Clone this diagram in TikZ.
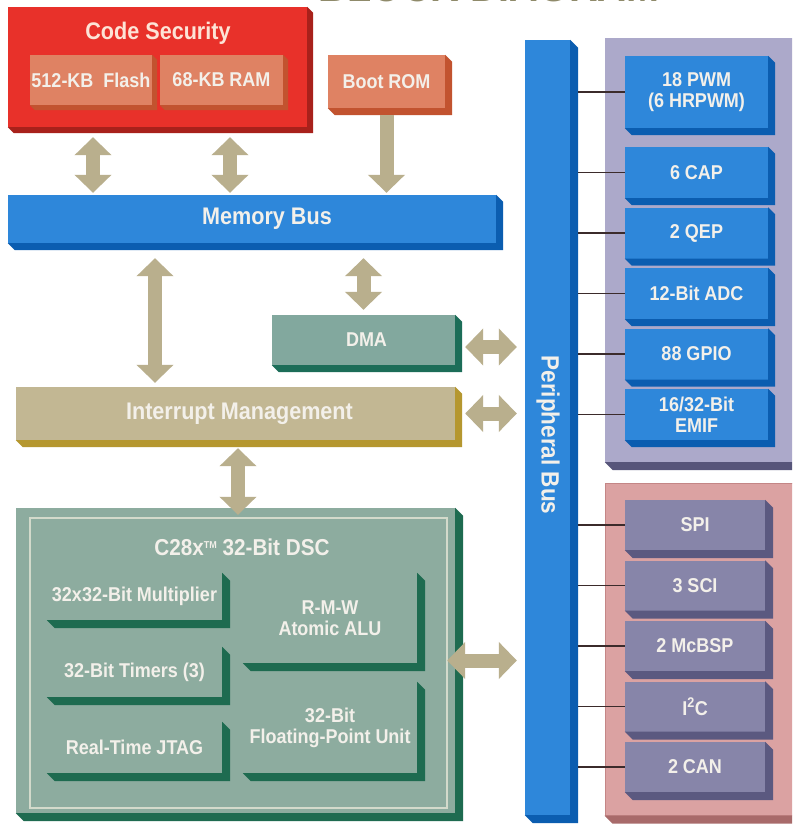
\documentclass[tikz,border=0pt]{standalone}
\usepackage{fontspec}
\setmainfont{Liberation Sans}[FakeStretch=0.9]
\usetikzlibrary{arrows.meta, positioning}

\definecolor{redF}{HTML}{E8312A}
\definecolor{redD}{HTML}{A8211B}
\definecolor{salF}{HTML}{DF8263}
\definecolor{salD}{HTML}{C2532F}
\definecolor{bluF}{HTML}{2E87DA}
\definecolor{bluD}{HTML}{0B5DB0}
\definecolor{tealF}{HTML}{82A89E}
\definecolor{tealD}{HTML}{1C6D58}
\definecolor{khaF}{HTML}{C2B793}
\definecolor{khaD}{HTML}{B5972F}
\definecolor{dscF}{HTML}{8DAC9F}
\definecolor{dscD}{HTML}{1E6B50}
\definecolor{frm}{HTML}{D3DACB}
\definecolor{lavF}{HTML}{ACA9CA}
\definecolor{lavD}{HTML}{57557A}
\definecolor{pinkF}{HTML}{DBA2A2}
\definecolor{pinkE}{HTML}{C48686}
\definecolor{pinkD}{HTML}{A86A6A}
\definecolor{purF}{HTML}{8785A9}
\definecolor{purD}{HTML}{5B5980}
\definecolor{arr}{HTML}{B9AF8D}
\definecolor{lbl}{HTML}{F3F0EA}
\definecolor{secT}{HTML}{FDE3D6}
\definecolor{tapc}{HTML}{3B2B2B}
\definecolor{ttl}{HTML}{8F8A6A}

\begin{document}
\begin{tikzpicture}[x=1pt, y=1pt, node distance=60.5pt, on grid,
  blk/.style={fill=#1, inner sep=0pt, text=lbl, align=center,
    font=\bfseries\fontsize{20}{21}\selectfont},
  big/.style={font=\bfseries\fontsize{24}{26}\selectfont},
  hdr/.style={text=lbl, inner sep=0pt, big},
  periph/.style={blk=#1, minimum width=143pt, minimum height=51pt},
  serial/.style={blk=purF, minimum width=140pt, minimum height=50pt},
  dbl/.style={draw=arr, line width=14pt,
    {Triangle[width=36pt,length=18pt]}-{Triangle[width=36pt,length=18pt]}},
  sgl/.style={draw=arr, line width=14pt, -{Triangle[width=36pt,length=18pt]}},
  tap/.style={draw=tapc, line width=1.8pt}]

\clip (0,0) rectangle (792,-824);
\fill[white] (0,0) rectangle (792,-824);

% title, cut off by the top edge
\node[text=ttl, font=\bfseries\fontsize{44}{44}\selectfont, anchor=base] (title) at (489,-2) {BLOCK DIAGRAM};

% peripheral groups
\node[blk=lavF, minimum width=195pt, minimum height=424pt] (grpA) at (702.5,-250) {};
\node[blk=pinkF, draw=pinkE, line width=1pt, minimum width=195pt, minimum height=332pt] (grpB) at (702.5,-649) {};

% memory side
\node[blk=redF, minimum width=299pt, minimum height=120pt] (sec) at (157.5,-67) {};
\node[hdr, text=secT] (sectxt) at (158,-33) {Code Security};
\node[blk=salF, minimum width=122pt, minimum height=50pt] (flash) at (91,-80) {512-KB\ \ Flash};
\node[blk=salF, minimum width=123pt, minimum height=50pt] (ram) at (221.5,-80) {68-KB RAM};
\node[blk=salF, minimum width=117pt, minimum height=53pt] (boot) at (386.5,-81.5) {Boot ROM};
\node[blk=bluF, big, minimum width=488pt, minimum height=48pt] (membus) at (252,-219) {\hspace*{30pt}Memory Bus};
\node[blk=tealF, minimum width=183pt, minimum height=50pt] (dma) at (363.5,-340) {\hspace*{6pt}DMA};
\node[blk=khaF, big, minimum width=439pt, minimum height=53pt] (irq) at (235.5,-413.5) {\hspace*{8pt}Interrupt Management};

% CPU
\node[blk=dscF, minimum width=439pt, minimum height=305pt] (dsc) at (235.5,-660.5) {};
\draw[frm, line width=2.5pt] ([shift={(14,-10)}]dsc.north west) rectangle ([shift={(-8,5)}]dsc.south east);
\node[hdr, font=\bfseries\fontsize{23}{25}\selectfont] (dsctxt) at (242,-547) {C28x\raisebox{7pt}{\fontsize{10}{10}\selectfont TM} 32-Bit DSC};
\node[blk=dscF, minimum width=175pt, minimum height=47pt] (mul) at (134.5,-596.5) {32x32-Bit Multiplier};
\node[blk=dscF, minimum width=175pt, minimum height=50pt] (tmr) at (134.5,-672) {32-Bit Timers (3)};
\node[blk=dscF, minimum width=175pt, minimum height=51pt] (jtag) at (134.5,-747.5) {Real-Time JTAG};
\node[blk=dscF, minimum width=174pt, minimum height=90pt] (alu) at (330,-618) {R-M-W\\Atomic ALU};
\node[blk=dscF, minimum width=174pt, minimum height=91pt] (fpu) at (330,-727.5) {32-Bit\\Floating-Point Unit};

% peripheral bus
\node[blk=bluF, minimum width=45pt, minimum height=775pt] (pbus) at (547.5,-427.5) {};
\node[hdr, rotate=-90, font=\bfseries\fontsize{25}{26}\selectfont] (pbustxt) at (548,-435) {Peripheral Bus};

\node[periph=bluF, minimum height=72pt] (pwm) at (696.5,-92) {18 PWM\\(6 HRPWM)};
\node[periph=bluF] (cap) at (696.5,-172.5) {6 CAP};
\node[periph=bluF, below=of cap] (qep) {2 QEP};
\node[periph=bluF, below=of qep] (adc) {12-Bit ADC};
\node[periph=bluF, below=of adc] (gpio) {88 GPIO};
\node[periph=bluF, below=of gpio] (emif) {16/32-Bit\\EMIF};

\node[serial] (spi) at (695,-525) {SPI};
\node[serial, below=of spi] (sci) {3 SCI};
\node[serial, below=of sci] (mcbsp) {2 McBSP};
\node[serial, below=of mcbsp] (iic) {I\textsuperscript{2}C};
\node[serial, below=of iic] (can) {2 CAN};

% 3-D edges
\foreach \n/\c/\sh in {grpA/lavD/8, grpB/pinkD/8, sec/redD/6, flash/salD/5, ram/salD/5,
    boot/salD/7, membus/bluD/7, dma/tealD/7, irq/khaD/7, dsc/dscD/8, mul/dscD/8,
    tmr/dscD/8, jtag/dscD/8, alu/dscD/8, fpu/dscD/8, pbus/bluD/8,
    pwm/bluD/7, cap/bluD/7, qep/bluD/7, adc/bluD/7, gpio/bluD/7, emif/bluD/7,
    spi/purD/8, sci/purD/8, mcbsp/purD/8, iic/purD/8, can/purD/8}
  \fill[\c] (\n.north east) -- ++(\sh,-\sh) -- ([shift={(\sh,-\sh)}]\n.south east)
    -- ([shift={(\sh,-\sh)}]\n.south west) -- (\n.south west) -- (\n.south east) -- cycle;

% taps onto the peripheral bus
\foreach \b in {pwm,cap,qep,adc,gpio,emif,spi,sci,mcbsp,iic,can}
  \draw[tap] ([xshift=8pt]pbus.east |- \b.west) -- (\b.west);

% data paths
\coordinate (xa) at (93,0);
\coordinate (xb) at (230,0);
\coordinate (xc) at (155,0);
\coordinate (xd) at (238,0);
\coordinate (ya) at (0,-347);

\path[dbl] ([yshift=-10pt]xa |- sec.south) -- ([yshift=2pt]xa |- membus.north);
\path[dbl] ([yshift=-10pt]xb |- sec.south) -- ([yshift=2pt]xb |- membus.north);
\path[sgl] ([yshift=-7pt]boot.south) -- ([yshift=2pt]boot |- membus.north);
\path[dbl] ([yshift=-15pt]xc |- membus.south) -- ([yshift=4pt]xc |- irq.north);
\path[dbl] ([yshift=-15pt]dma |- membus.south) -- ([yshift=5pt]dma.north);
\path[dbl] ([xshift=10pt]dma.east |- ya) -- ([xshift=-8pt]pbus.west |- ya);
\path[dbl] ([xshift=10pt]irq.east) -- ([xshift=-8pt]pbus.west |- irq.east);
\path[dbl] ([yshift=-8pt]xd |- irq.south) -- ([yshift=-7pt]xd |- dsc.north);
\path[dbl] ([xshift=-8pt]dsc.east) -- ([xshift=-8pt]pbus.west |- dsc.east);

\end{tikzpicture}
\end{document}
